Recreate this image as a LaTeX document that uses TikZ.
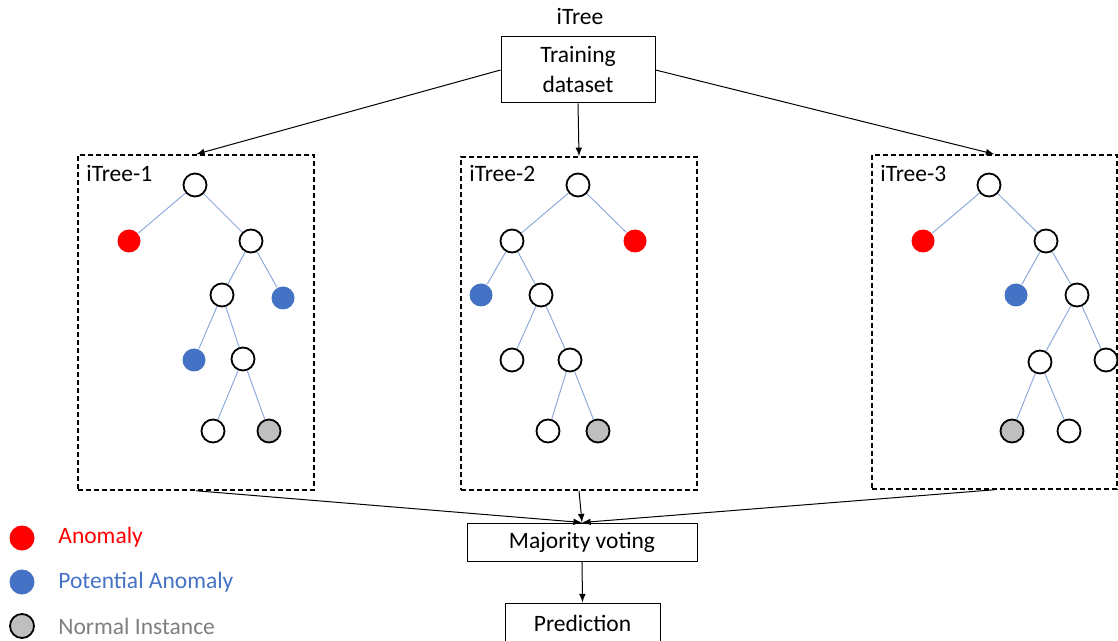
\documentclass[tikz,border=0pt]{standalone}
\usepackage{fontspec}
\setmainfont{Carlito}
\definecolor{anomred}{HTML}{FF0000}
\definecolor{anomblue}{HTML}{4472C4}
\definecolor{normgray}{HTML}{BFBFBF}
\definecolor{textgray}{HTML}{7F7F7F}
\definecolor{edgeblue}{HTML}{8FAADC}
\tikzset{
	txt/.style={inner sep=0pt, font=\fontsize{11.75}{15}\selectfont},
	box/.style={draw, line width=0.5pt, align=center, inner sep=0pt, font=\fontsize{11.75}{15}\selectfont},
	treebox/.style={draw, line width=0.75pt, dash pattern=on 2.5pt off 1.5pt, inner sep=0pt},
	leaf/.style={circle, minimum size=11.5pt, inner sep=0pt, line width=0.9pt},
	splitnode/.style={leaf, draw, fill=white},
	anomnode/.style={leaf, fill=anomred},
	potnode/.style={leaf, fill=anomblue},
	normnode/.style={leaf, draw, fill=normgray},
	treeedge/.style={draw=edgeblue, line width=0.5pt},
}
\begin{document}
\begin{tikzpicture}[x=0.5pt, y=-0.5pt, >=latex]
	\useasboundingbox (0,0) rectangle (1118,641);
	
	\node[txt] (title) at (580,17) {iTree};
	\node[box, minimum width=77pt, minimum height=33pt] (train) at (578,70) {Training\\dataset};
	
	\node[treebox, minimum width=118pt, minimum height=167.5pt] (box1) at (196,322.5) {};
	\node[treebox, minimum width=118pt, minimum height=166.5pt] (box2) at (579,323.5) {};
	\node[treebox, minimum width=122.5pt, minimum height=167pt] (box3) at (994.5,322) {};
	\node[txt, anchor=west] (l1) at (86,173) {iTree-1};
	\node[txt, anchor=west] (l2) at (469,173) {iTree-2};
	\node[txt, anchor=west] (l3) at (880,173) {iTree-3};
	
	\node[box, minimum width=115pt, minimum height=19pt] (vote) at (582,542) {Majority voting};
	\node[box, minimum width=77.5pt, minimum height=22pt] (pred) at (582.5,625) {\raisebox{1.5pt}{Prediction}};
	
	\draw[->, line width=0.5pt] (train.west) edge (box1.north)
	(train.south) edge (box2.north)
	(train.east) edge (box3.north)
	(box1.south) edge (vote.north)
	(box2.south) edge (vote.north)
	(box3.south) edge (vote.north)
	(vote.south) -- (pred.north);
	
	\node[splitnode] (a1) at (195,185) {};
	\node[anomnode] (a2) at (129,241) {};
	\node[splitnode] (a3) at (251,241) {};
	\node[splitnode] (a4) at (222,295) {};
	\node[potnode] (a5) at (283,298) {};
	\node[potnode] (a6) at (194,360) {};
	\node[splitnode] (a7) at (243,359) {};
	\node[splitnode] (a8) at (213,431) {};
	\node[normnode] (a9) at (269,431) {};
	\draw[treeedge] (a1) -- (a2) (a1) -- (a3) (a3) -- (a4) (a3) -- (a5)
	(a4) -- (a6) (a4) -- (a7) (a7) -- (a8) (a7) -- (a9);
	
	\node[splitnode] (b1) at (578,185) {};
	\node[splitnode] (b2) at (512,241) {};
	\node[anomnode] (b3) at (635,241) {};
	\node[potnode] (b4) at (481,295) {};
	\node[splitnode] (b5) at (541,295) {};
	\node[splitnode] (b6) at (512,360) {};
	\node[splitnode] (b7) at (570,360) {};
	\node[splitnode] (b8) at (548,431) {};
	\node[normnode] (b9) at (598,431) {};
	\draw[treeedge] (b1) -- (b2) (b1) -- (b3) (b2) -- (b4) (b2) -- (b5)
	(b5) -- (b6) (b5) -- (b7) (b7) -- (b8) (b7) -- (b9);
	
	\node[splitnode] (c1) at (989,185) {};
	\node[anomnode] (c2) at (923,241) {};
	\node[splitnode] (c3) at (1046,241) {};
	\node[potnode] (c4) at (1016,295) {};
	\node[splitnode] (c5) at (1077,295) {};
	\node[splitnode] (c6) at (1040,362) {};
	\node[splitnode] (c7) at (1106,360) {};
	\node[normnode] (c8) at (1012,431) {};
	\node[splitnode] (c9) at (1069,431) {};
	\draw[treeedge] (c1) -- (c2) (c1) -- (c3) (c3) -- (c4) (c3) -- (c5)
	(c5) -- (c6) (c5) -- (c7) (c6) -- (c8) (c6) -- (c9);
	
	\node[anomnode, minimum size=12.5pt] (k1) at (22,538) {};
	\node[potnode, minimum size=12.5pt] (k2) at (22,582) {};
	\node[normnode, minimum size=12pt] (k3) at (22,626) {};
	\node[txt, anchor=west, text=anomred] (t1) at (58,537) {Anomaly};
	\node[txt, anchor=west, text=anomblue] (t2) at (58,582) {Potential Anomaly};
	\node[txt, anchor=west, text=textgray] (t3) at (58,626) {Normal Instance};
\end{tikzpicture}
\end{document}
